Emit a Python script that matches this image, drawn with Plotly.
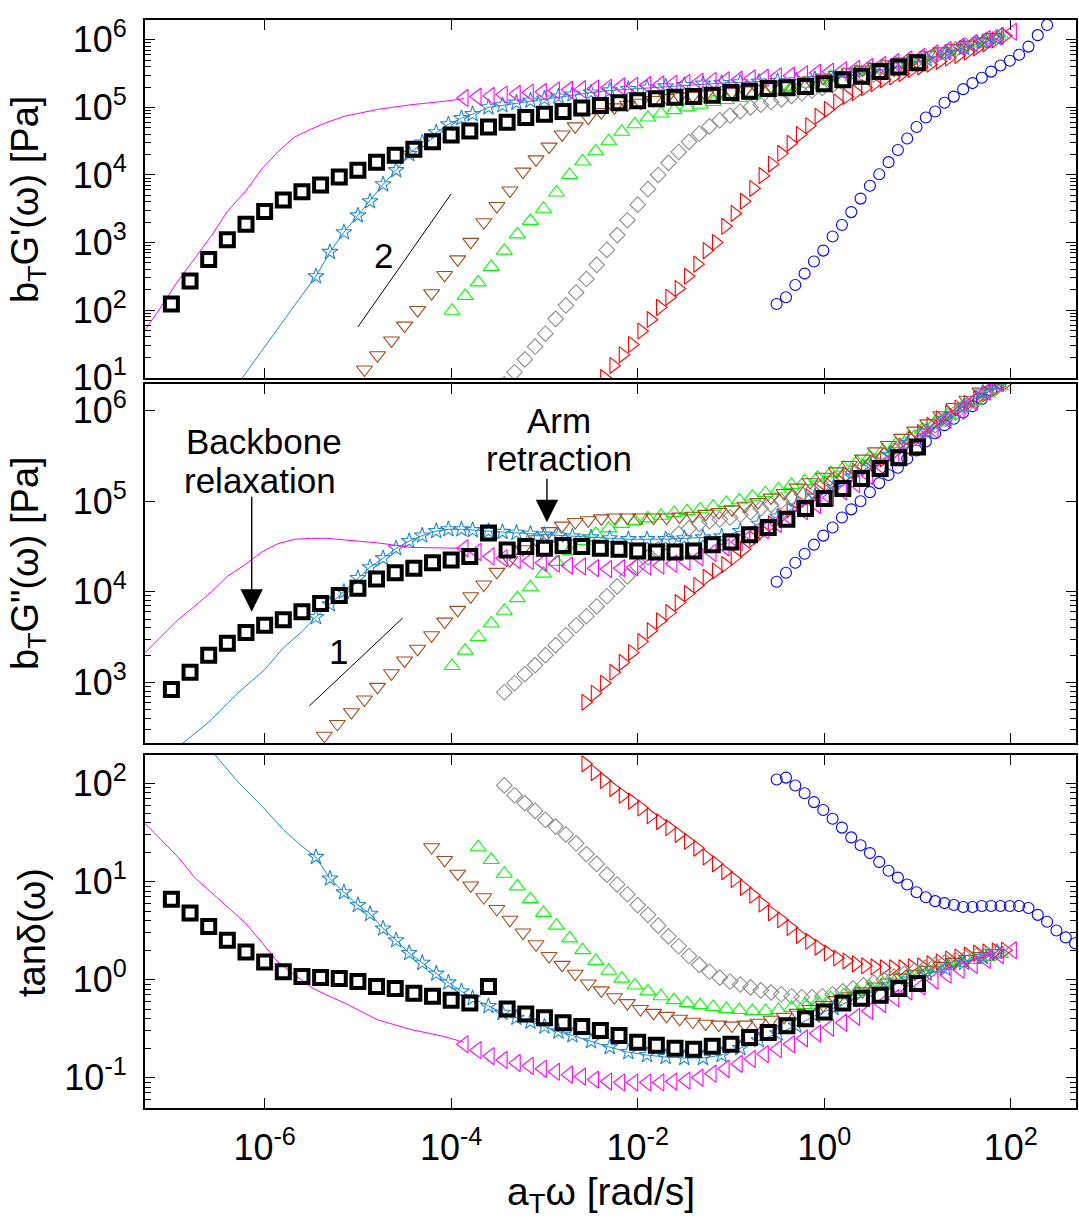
import plotly.graph_objects as go

# ---------------- data (log10 of values) ----------------
# Black open squares
SQ_LOGW = [-7.0, -6.8, -6.6, -6.4, -6.2, -6.0, -5.8, -5.6, -5.4, -5.2, -5.0, -4.8, -4.6, -4.4,
           -4.2, -4.0, -3.8, -3.6, -3.4, -3.2, -3.0, -2.8, -2.6, -2.4, -2.2, -2.0, -1.8, -1.6,
           -1.4, -1.2, -1.0, -0.8, -0.6, -0.4, -0.2, 0.0, 0.2, 0.4, 0.6, 0.8, 1.0]
SQ_GP = [2.09, 2.43, 2.75, 3.04, 3.27, 3.46, 3.63, 3.75, 3.85, 3.97, 4.07, 4.19, 4.29, 4.38,
         4.49, 4.59, 4.65, 4.71, 4.78, 4.85, 4.90, 4.94, 4.99, 5.03, 5.07, 5.10, 5.13, 5.15,
         5.16, 5.18, 5.22, 5.24, 5.28, 5.29, 5.31, 5.35, 5.41, 5.46, 5.53, 5.60, 5.66]
SQ_GPP = [2.92, 3.11, 3.30, 3.43, 3.55, 3.63, 3.69, 3.78, 3.87, 3.96, 4.04, 4.14, 4.21, 4.26,
          4.32, 4.35, 4.39, 4.65, 4.46, 4.50, 4.48, 4.51, 4.50, 4.48, 4.47, 4.45, 4.44, 4.44,
          4.45, 4.52, 4.55, 4.63, 4.71, 4.80, 4.92, 5.03, 5.14, 5.25, 5.36, 5.48, 5.60]
SQ_TAN = [0.82, 0.68, 0.54, 0.40, 0.28, 0.18, 0.08, 0.03, 0.02, 0.01, -0.02, -0.07, -0.09, -0.14,
          -0.17, -0.21, -0.24, -0.07, -0.30, -0.35, -0.39, -0.44, -0.48, -0.52, -0.57, -0.64,
          -0.67, -0.70, -0.71, -0.68, -0.66, -0.59, -0.54, -0.47, -0.40, -0.33, -0.24, -0.19,
          -0.16, -0.09, -0.04]

# Magenta: fitted line (low frequency) and left-pointing triangles
MG_LINE_LOGW = [-7.28, -7.1, -6.93, -6.75, -6.57, -6.4, -6.21, -6.03, -5.86, -5.68, -5.5,
                -5.33, -5.14, -4.79, -4.43, -4.08, -3.86]
MG_LINE_GP = [1.71, 2.07, 2.43, 2.77, 3.10, 3.46, 3.75, 4.09, 4.34, 4.56, 4.68, 4.78, 4.87,
              4.97, 5.04, 5.09, 5.13]
MG_LINE_GPP = [3.33, 3.51, 3.69, 3.84, 4.00, 4.17, 4.30, 4.44, 4.53, 4.58, 4.59, 4.59, 4.57,
               4.54, 4.49, 4.48, 4.48]
MG_LINE_TAN = [1.59, 1.42, 1.25, 1.04, 0.89, 0.74, 0.58, 0.38, 0.18, 0.05, -0.08, -0.16, -0.24,
               -0.41, -0.51, -0.58, -0.64]
MG_LOGW = [-3.86, -3.72, -3.58, -3.44, -3.30, -3.16, -3.02, -2.88, -2.74, -2.60, -2.46, -2.32,
           -2.18, -2.04, -1.90, -1.76, -1.62, -1.48, -1.34, -1.20, -1.06, -0.92, -0.78, -0.64,
           -0.50, -0.36, -0.22, -0.08, 0.06, 0.20, 0.34, 0.48, 0.62, 0.76, 0.90, 1.04, 1.18,
           1.32, 1.46, 1.60, 1.74, 1.88, 2.02]
MG_GP = [5.14, 5.16, 5.17, 5.19, 5.20, 5.22, 5.23, 5.25, 5.26, 5.27, 5.28, 5.29, 5.31, 5.32,
         5.33, 5.34, 5.35, 5.36, 5.38, 5.39, 5.40, 5.41, 5.43, 5.44, 5.46, 5.47, 5.49, 5.51,
         5.53, 5.55, 5.57, 5.60, 5.63, 5.67, 5.71, 5.75, 5.80, 5.85, 5.90, 5.95, 6.01, 6.06, 6.12]
MG_GPP = [4.48, 4.44, 4.39, 4.37, 4.35, 4.34, 4.32, 4.31, 4.29, 4.28, 4.26, 4.25, 4.26, 4.27,
          4.28, 4.29, 4.31, 4.33, 4.38, 4.43, 4.49, 4.55, 4.62, 4.68, 4.75, 4.81, 4.89, 4.96,
          5.04, 5.11, 5.19, 5.28, 5.38, 5.48, 5.59, 5.68, 5.79, 5.90, 6.00, 6.10, 6.21, 6.31, 6.42]
MG_TAN = [-0.66, -0.72, -0.78, -0.82, -0.85, -0.88, -0.91, -0.94, -0.97, -0.99, -1.02, -1.04,
          -1.05, -1.05, -1.05, -1.05, -1.04, -1.03, -1.00, -0.96, -0.91, -0.86, -0.81, -0.76,
          -0.71, -0.66, -0.60, -0.55, -0.49, -0.44, -0.38, -0.32, -0.25, -0.19, -0.12, -0.07,
          -0.01, 0.05, 0.10, 0.15, 0.20, 0.25, 0.30]

# Blue: line with open stars
BL_LOGW = [-6.9, -6.6, -6.3, -6.0, -5.8, -5.6, -5.45, -5.3, -5.15, -5.0, -4.87, -4.73, -4.59,
           -4.45, -4.31, -4.16, -4.03, -3.89, -3.77, -3.6, -3.45, -3.3, -3.15, -3.0, -2.85,
           -2.7, -2.5, -2.3, -2.1, -1.9, -1.7, -1.5, -1.3, -1.1, -0.9, -0.7, -0.5, -0.3, -0.1,
           0.1, 0.3, 0.5, 0.7, 0.9, 1.1, 1.3, 1.5, 1.7, 1.85]
BL_GP = [-0.25, 0.30, 0.88, 1.46, 1.84, 2.22, 2.50, 2.86, 3.15, 3.40, 3.61, 3.86, 4.07, 4.31,
         4.48, 4.63, 4.75, 4.84, 4.90, 5.00, 5.03, 5.07, 5.10, 5.13, 5.16, 5.19, 5.22, 5.25,
         5.27, 5.29, 5.31, 5.33, 5.35, 5.36, 5.37, 5.38, 5.39, 5.40, 5.42, 5.44, 5.48, 5.52,
         5.57, 5.64, 5.71, 5.80, 5.88, 5.97, 6.02]
BL_GPP = [2.31, 2.56, 2.87, 3.14, 3.38, 3.56, 3.72, 3.86, 4.00, 4.15, 4.27, 4.37, 4.48, 4.56,
          4.62, 4.67, 4.69, 4.69, 4.68, 4.67, 4.66, 4.65, 4.64, 4.63, 4.62, 4.61, 4.60, 4.59,
          4.58, 4.58, 4.58, 4.59, 4.60, 4.61, 4.67, 4.75, 4.83, 4.94, 5.05, 5.15, 5.27, 5.39,
          5.51, 5.64, 5.77, 5.91, 6.05, 6.20, 6.30]
BL_TAN = [2.60, 2.37, 2.03, 1.74, 1.53, 1.36, 1.25, 1.03, 0.89, 0.76, 0.67, 0.52, 0.40, 0.27,
          0.17, 0.06, -0.03, -0.12, -0.19, -0.27, -0.34, -0.39, -0.43, -0.48, -0.53, -0.57,
          -0.63, -0.69, -0.74, -0.77, -0.79, -0.80, -0.80, -0.77, -0.70, -0.62, -0.55, -0.47,
          -0.37, -0.29, -0.21, -0.13, -0.06, 0.00, 0.06, 0.11, 0.17, 0.23, 0.28]
BL_STAR_FROM = -5.45

# Brown: down-pointing triangles
BR_LOGW = [-5.36, -5.22, -5.07, -4.93, -4.79, -4.64, -4.50, -4.36, -4.21, -4.07, -3.93, -3.79,
           -3.65, -3.51, -3.37, -3.23, -3.09, -2.95, -2.81, -2.67, -2.53, -2.39, -2.25, -2.11,
           -1.97, -1.83, -1.69, -1.55, -1.41, -1.27, -1.13, -0.99, -0.85, -0.71, -0.57, -0.43,
           -0.29, -0.15, -0.01, 0.13, 0.27, 0.41, 0.55, 0.69, 0.83, 0.97, 1.11, 1.25, 1.39,
           1.53, 1.67, 1.81]
BR_GP = [0.35, 0.60, 0.86, 1.12, 1.33, 1.55, 1.77, 2.00, 2.25, 2.52, 2.75, 3.01, 3.30, 3.54,
         3.77, 4.05, 4.23, 4.42, 4.60, 4.72, 4.85, 4.93, 5.00, 5.04, 5.07, 5.11, 5.14, 5.16,
         5.17, 5.19, 5.21, 5.23, 5.25, 5.27, 5.30, 5.33, 5.36, 5.40, 5.44, 5.48, 5.52, 5.56,
         5.60, 5.64, 5.68, 5.73, 5.78, 5.83, 5.88, 5.93, 5.98, 6.04]
BR_GPP = [2.41, 2.54, 2.67, 2.81, 2.95, 3.10, 3.24, 3.37, 3.52, 3.67, 3.80, 3.95, 4.08, 4.22,
          4.35, 4.47, 4.58, 4.67, 4.73, 4.77, 4.79, 4.81, 4.82, 4.82, 4.82, 4.82, 4.82, 4.83,
          4.84, 4.86, 4.88, 4.91, 4.95, 4.99, 5.04, 5.09, 5.15, 5.21, 5.27, 5.33, 5.40, 5.47,
          5.55, 5.62, 5.70, 5.78, 5.86, 5.95, 6.04, 6.12, 6.21, 6.30]
BR_TAN = [None, None, None, None, None, None, None, None, 1.35, 1.22, 1.08, 0.96, 0.84, 0.72,
          0.61, 0.48, 0.36, 0.24, 0.15, 0.06, -0.04, -0.11, -0.18, -0.24, -0.30, -0.34, -0.37,
          -0.40, -0.43, -0.45, -0.46, -0.47, -0.46, -0.44, -0.41, -0.38, -0.34, -0.30, -0.26,
          -0.21, -0.17, -0.12, -0.07, -0.03, 0.02, 0.06, 0.10, 0.14, 0.18, 0.21, 0.24, 0.27]

# Green: up-pointing triangles
GR_LOGW = [-3.99, -3.85, -3.71, -3.57, -3.43, -3.29, -3.15, -3.01, -2.87, -2.73, -2.59, -2.45,
           -2.31, -2.17, -2.03, -1.89, -1.75, -1.61, -1.47, -1.33, -1.19, -1.05, -0.91, -0.77,
           -0.63, -0.49, -0.35, -0.21, -0.07, 0.07, 0.21, 0.35, 0.49, 0.63, 0.77, 0.91, 1.05,
           1.19, 1.33, 1.47, 1.61, 1.75, 1.89]
GR_GP = [1.99, 2.21, 2.41, 2.64, 2.88, 3.12, 3.32, 3.50, 3.74, 4.00, 4.20, 4.35, 4.50, 4.64,
         4.75, 4.85, 4.91, 4.96, 5.00, 5.04, 5.08, 5.11, 5.14, 5.18, 5.22, 5.26, 5.30, 5.35,
         5.40, 5.45, 5.49, 5.53, 5.57, 5.61, 5.65, 5.69, 5.74, 5.79, 5.84, 5.89, 5.95, 6.00, 6.06]
GR_GPP = [3.18, 3.35, 3.50, 3.65, 3.79, 3.93, 4.05, 4.20, 4.33, 4.45, 4.56, 4.64, 4.70, 4.75,
          4.78, 4.81, 4.84, 4.87, 4.89, 4.91, 4.94, 4.98, 5.01, 5.05, 5.09, 5.13, 5.18, 5.22,
          5.26, 5.31, 5.37, 5.43, 5.49, 5.56, 5.63, 5.71, 5.79, 5.87, 5.95, 6.03, 6.11, 6.19, 6.27]
GR_TAN = [None, None, 1.35, 1.22, 1.08, 0.95, 0.82, 0.68, 0.55, 0.42, 0.30, 0.19, 0.09, 0.01,
          -0.06, -0.12, -0.17, -0.21, -0.24, -0.26, -0.28, -0.30, -0.31, -0.32, -0.32, -0.31,
          -0.29, -0.26, -0.23, -0.19, -0.16, -0.12, -0.08, -0.04, 0.00, 0.04, 0.08, 0.11, 0.14,
          0.17, 0.20, 0.23, 0.26]

# Grey: open diamonds
GY_LOGW = [-3.43, -3.32, -3.21, -3.10, -2.99, -2.88, -2.77, -2.66, -2.55, -2.44, -2.33, -2.22,
           -2.11, -2.00, -1.89, -1.78, -1.67, -1.56, -1.45, -1.34, -1.23, -1.12, -1.01, -0.90,
           -0.79, -0.68, -0.57, -0.46, -0.35, -0.24, -0.13, -0.02, 0.09, 0.20, 0.31, 0.42, 0.53,
           0.64, 0.75, 0.86, 0.97, 1.08, 1.19, 1.30, 1.41, 1.52, 1.63, 1.74, 1.85]
GY_GP = [0.90, 1.08, 1.27, 1.46, 1.65, 1.87, 2.07, 2.26, 2.46, 2.67, 2.89, 3.11, 3.33, 3.56,
         3.79, 4.00, 4.18, 4.34, 4.49, 4.61, 4.72, 4.81, 4.88, 4.94, 5.00, 5.04, 5.08, 5.12,
         5.17, 5.21, 5.25, 5.29, 5.33, 5.37, 5.41, 5.45, 5.49, 5.53, 5.57, 5.62, 5.66, 5.71,
         5.76, 5.81, 5.86, 5.91, 5.96, 6.00, 6.04]
GY_GPP = [2.89, 2.99, 3.09, 3.19, 3.30, 3.41, 3.52, 3.63, 3.73, 3.84, 3.95, 4.06, 4.17, 4.28,
          4.38, 4.47, 4.56, 4.64, 4.70, 4.75, 4.78, 4.80, 4.82, 4.85, 4.88, 4.92, 4.96, 5.00,
          5.04, 5.08, 5.12, 5.17, 5.22, 5.27, 5.32, 5.38, 5.44, 5.50, 5.56, 5.63, 5.70, 5.77,
          5.84, 5.91, 5.98, 6.05, 6.12, 6.19, 6.26]
GY_TAN = [1.98, 1.88, 1.80, 1.72, 1.63, 1.56, 1.48, 1.39, 1.28, 1.18, 1.07, 0.97, 0.87, 0.76,
          0.66, 0.55, 0.44, 0.34, 0.24, 0.15, 0.08, 0.02, -0.02, -0.05, -0.08, -0.11, -0.13,
          -0.15, -0.17, -0.18, -0.18, -0.17, -0.15, -0.12, -0.09, -0.06, -0.03, 0.00, 0.03, 0.06,
          0.09, 0.12, 0.15, 0.18, 0.20, 0.22, 0.24, 0.26, 0.28]

# Red: right-pointing triangles
RD_LOGW = [-2.56, -2.46, -2.36, -2.26, -2.16, -2.06, -1.96, -1.86, -1.76, -1.66, -1.56, -1.46,
           -1.36, -1.26, -1.16, -1.06, -0.96, -0.86, -0.76, -0.66, -0.56, -0.46, -0.36, -0.26,
           -0.16, -0.06, 0.04, 0.14, 0.24, 0.34, 0.44, 0.54, 0.64, 0.74, 0.84, 0.94, 1.04, 1.14,
           1.24, 1.34, 1.44, 1.54, 1.64, 1.74, 1.84, 1.94]
RD_GP = [0.66, 0.83, 1.00, 1.18, 1.34, 1.49, 1.69, 1.86, 2.04, 2.19, 2.32, 2.50, 2.68, 2.88,
         3.00, 3.24, 3.43, 3.61, 3.80, 3.99, 4.16, 4.32, 4.47, 4.60, 4.73, 4.87, 4.97, 5.08,
         5.16, 5.22, 5.29, 5.35, 5.41, 5.45, 5.50, 5.56, 5.60, 5.64, 5.68, 5.73, 5.77, 5.82,
         5.88, 5.94, 6.00, 6.06]
RD_GPP = [2.78, 2.88, 2.99, 3.11, 3.22, 3.33, 3.45, 3.57, 3.68, 3.77, 3.88, 3.98, 4.07, 4.16,
          4.23, 4.30, 4.38, 4.47, 4.58, 4.67, 4.75, 4.83, 4.91, 4.98, 5.05, 5.11, 5.18, 5.24,
          5.29, 5.33, 5.37, 5.42, 5.47, 5.53, 5.61, 5.68, 5.76, 5.84, 5.91, 5.97, 6.03, 6.08,
          6.14, 6.19, 6.25, 6.30]
RD_TAN = [2.20, 2.11, 2.03, 1.95, 1.88, 1.82, 1.75, 1.67, 1.61, 1.55, 1.48, 1.41, 1.34, 1.25,
          1.18, 1.10, 1.02, 0.94, 0.86, 0.77, 0.68, 0.61, 0.53, 0.45, 0.39, 0.33, 0.27, 0.22,
          0.19, 0.16, 0.14, 0.13, 0.12, 0.12, 0.12, 0.13, 0.14, 0.16, 0.18, 0.21, 0.23, 0.25,
          0.27, 0.28, 0.29, 0.30]

# Blue: open circles
CI_LOGW = [-0.51, -0.41, -0.31, -0.21, -0.11, -0.01, 0.09, 0.19, 0.29, 0.39, 0.49, 0.59, 0.69,
           0.79, 0.89, 0.99, 1.09, 1.19, 1.29, 1.39, 1.49, 1.59, 1.69, 1.79, 1.89, 1.99, 2.09,
           2.19, 2.29, 2.39, 2.49, 2.59, 2.69]
CI_GP = [2.09, 2.19, 2.37, 2.54, 2.72, 2.88, 3.09, 3.26, 3.45, 3.65, 3.84, 4.01, 4.19, 4.37,
         4.54, 4.71, 4.85, 4.94, 5.07, 5.16, 5.27, 5.36, 5.44, 5.53, 5.62, 5.69, 5.78, 5.90,
         6.07, 6.22, 6.40, 6.55, 6.68]
CI_GPP = [4.11, 4.21, 4.32, 4.42, 4.52, 4.62, 4.71, 4.82, 4.91, 5.00, 5.10, 5.20, 5.29, 5.37,
          5.47, 5.56, 5.66, 5.75, 5.84, 5.91, 5.98, 6.05, 6.13, 6.22, 6.30, 6.39, 6.48, 6.57,
          6.66, 6.75, 6.83, 6.90, 6.97]
CI_TAN = [2.04, 2.06, 1.98, 1.90, 1.81, 1.73, 1.64, 1.55, 1.45, 1.37, 1.29, 1.20, 1.11, 1.04,
          0.97, 0.89, 0.84, 0.80, 0.78, 0.76, 0.74, 0.74, 0.75, 0.75, 0.75, 0.75, 0.75, 0.73,
          0.66, 0.59, 0.50, 0.43, 0.37]

# Slope guide lines (log10 coordinates)
SLOPE2_LOGW = [-5.0, -4.0]
SLOPE2_LOGG = [1.75, 3.72]
SLOPE1_LOGW = [-5.52, -4.52]
SLOPE1_LOGG = [2.74, 3.71]

X_TICKS = [-6, -4, -2, 0, 2]
Y1_TICKS = [1, 2, 3, 4, 5, 6]
Y2_TICKS = [3, 4, 5, 6]
Y3_TICKS = [-1, 0, 1, 2]

# ---------------- helpers ----------------
def P(v):
    return [None if a is None else 10 ** a for a in v]

def lab(e):
    return "10<sup>%d</sup>" % e

FONT = "Liberation Sans, Arial, sans-serif"
COL = dict(mag="#FF00FF", blue="#2089D2", brown="#A24B1C", green="#00FF00",
           grey="#8C8C8C", red="#FF0000", circ="#0000FF")

fig = go.Figure()
AX = [("x", "y"), ("x2", "y2"), ("x3", "y3")]

def add_markers(logw, vals, symbol, color, size, lw=1.1):
    for (xa, ya), v in zip(AX, vals):
        fig.add_trace(go.Scatter(x=P(logw), y=P(v), mode="markers", xaxis=xa, yaxis=ya,
                                 showlegend=False, hoverinfo="skip",
                                 marker=dict(symbol=symbol, size=size, color=color,
                                             line=dict(width=lw, color=color))))

def add_line(logw, vals, color, width=1.0):
    for (xa, ya), v in zip(AX, vals):
        fig.add_trace(go.Scatter(x=P(logw), y=P(v), mode="lines", xaxis=xa, yaxis=ya,
                                 showlegend=False, hoverinfo="skip",
                                 line=dict(color=color, width=width)))

add_markers(CI_LOGW, [CI_GP, CI_GPP, CI_TAN], "circle-open", COL["circ"], 11)
add_markers(RD_LOGW, [RD_GP, RD_GPP, RD_TAN], "triangle-right-open", COL["red"], 14)
add_markers(GY_LOGW, [GY_GP, GY_GPP, GY_TAN], "diamond-open", COL["grey"], 12)
add_markers(GR_LOGW, [GR_GP, GR_GPP, GR_TAN], "triangle-up-open", COL["green"], 14)
add_markers(BR_LOGW, [BR_GP, BR_GPP, BR_TAN], "triangle-down-open", COL["brown"], 14)
add_line(BL_LOGW, [BL_GP, BL_GPP, BL_TAN], COL["blue"])
idx = [i for i, w in enumerate(BL_LOGW) if w >= BL_STAR_FROM]
add_markers([BL_LOGW[i] for i in idx],
            [[BL_GP[i] for i in idx], [BL_GPP[i] for i in idx], [BL_TAN[i] for i in idx]],
            "star-open", COL["blue"], 12)
add_line(MG_LINE_LOGW, [MG_LINE_GP, MG_LINE_GPP, MG_LINE_TAN], COL["mag"])
add_markers(MG_LOGW, [MG_GP, MG_GPP, MG_TAN], "triangle-left-open", COL["mag"], 15)
add_markers(SQ_LOGW, [SQ_GP, SQ_GPP, SQ_TAN], "square-open", "black", 13, lw=4)

# slope guides
fig.add_trace(go.Scatter(x=P(SLOPE2_LOGW), y=P(SLOPE2_LOGG), mode="lines", xaxis="x", yaxis="y",
                         showlegend=False, line=dict(color="black", width=1)))
fig.add_trace(go.Scatter(x=P(SLOPE1_LOGW), y=P(SLOPE1_LOGG), mode="lines", xaxis="x2", yaxis="y2",
                         showlegend=False, line=dict(color="black", width=1)))

# ---------------- axes ----------------
XR = [-7.283, 2.70]
DOM = {"y": [0.6710, 1.0], "y2": [0.3355, 0.6654], "y3": [0.0, 0.3244]}
YR = {"y": [0.995, 6.294], "y2": [2.33, 6.294], "y3": [-1.31, 2.29]}
YT = {"y": Y1_TICKS, "y2": Y2_TICKS, "y3": Y3_TICKS}
MINOR = {
    "y": [k * 10 ** n for n in range(1, 6) for k in range(2, 10)],
    "y2": [k * 10 ** n for n in range(2, 4) for k in range(2, 10) if k * 10 ** n > 214],
    "y3": [k * 10.0 ** n for n in range(-2, 2) for k in range(2, 10) if k * 10.0 ** n > 0.049],
}

tickfont = dict(family=FONT, size=36, color="black")
layout = dict(width=1079, height=1222, paper_bgcolor="white", plot_bgcolor="white",
              margin=dict(l=145, r=3, t=20, b=114, autoexpand=False), showlegend=False)
for i, (xa, ya) in enumerate(AX):
    xkey = "xaxis" if xa == "x" else "xaxis" + xa[1:]
    ykey = "yaxis" if ya == "y" else "yaxis" + ya[1:]
    layout[xkey] = dict(type="log", range=XR, anchor=ya, domain=[0, 1], showgrid=False,
                        zeroline=False, showline=True, linecolor="black", linewidth=2,
                        mirror="ticks", ticks="inside", ticklen=10, tickwidth=1.2,
                        tickcolor="black", tickmode="array", automargin=False,
                        tickvals=[10.0 ** e for e in X_TICKS],
                        ticktext=[lab(e) for e in X_TICKS],
                        showticklabels=(i == 2), tickfont=tickfont, ticklabelstandoff=7)
    layout[ykey] = dict(type="log", range=YR[ya], anchor=xa, domain=DOM[ya], showgrid=False,
                        zeroline=False, showline=True, linecolor="black", linewidth=2,
                        mirror="ticks", ticks="inside", ticklen=10, tickwidth=1.2,
                        tickcolor="black", tickmode="array", automargin=False,
                        tickvals=[10.0 ** e for e in YT[ya]],
                        ticktext=[lab(e) for e in YT[ya]], tickfont=tickfont,
                        ticklabelstandoff=9,
                        minor=dict(ticks="inside", ticklen=6, tickwidth=1, tickcolor="black",
                                   tickmode="array", tickvals=MINOR[ya], showgrid=False))
fig.update_layout(**layout)

# ---------------- text ----------------
def px_x(px):
    return (px - 145) / 931.0

def px_y(py):
    return (1108 - py) / 1088.0

afont = dict(family=FONT, size=35, color="black")
ann = [
    dict(text="b<sub>T</sub>G'(ω) [Pa]", x=px_x(28), y=px_y(200), textangle=-90, size=38),
    dict(text="b<sub>T</sub>G\"(ω) [Pa]", x=px_x(28), y=px_y(563), textangle=-90, size=38),
    dict(text="tanδ(ω)", x=px_x(32), y=px_y(933), textangle=-90, size=38),
    dict(text="a<sub>T</sub>ω [rad/s]", x=px_x(601), y=px_y(1194), textangle=0, size=39),
]
for a in ann:
    s = a.pop("size")
    fig.add_annotation(xref="paper", yref="paper", showarrow=False, xanchor="center",
                       yanchor="middle", font=dict(family=FONT, size=s, color="black"), **a)

fig.add_annotation(xref="x", yref="y", x=-4.727, y=2.81, text="2", showarrow=False, font=afont)
fig.add_annotation(xref="x2", yref="y2", x=-5.209, y=3.344, text="1", showarrow=False, font=afont)
fig.add_annotation(xref="x2", yref="y2", x=-6.005, y=5.66, text="Backbone", showarrow=False, font=afont)
fig.add_annotation(xref="x2", yref="y2", x=-6.05, y=5.23, text="relaxation", showarrow=False, font=afont)
fig.add_annotation(xref="x2", yref="y2", x=-2.845, y=5.89, text="Arm", showarrow=False, font=afont)
fig.add_annotation(xref="x2", yref="y2", x=-2.84, y=5.47, text="retraction", showarrow=False, font=afont)
# arrows
fig.add_annotation(xref="x2", yref="y2", axref="x2", ayref="y2", x=-6.139, y=3.78,
                   ax=-6.139, ay=5.066, text="", showarrow=True, arrowhead=2, arrowsize=3.2,
                   arrowwidth=1.4, arrowcolor="black")
fig.add_annotation(xref="x2", yref="y2", axref="x2", ayref="y2", x=-2.973, y=4.769,
                   ax=-2.973, ay=5.264, text="", showarrow=True, arrowhead=2, arrowsize=3.2,
                   arrowwidth=1.4, arrowcolor="black")

fig.write_html("out.html", config={"displayModeBar": False},
               post_script="document.body.style.margin='0px';"
                           "document.body.style.overflow='hidden';")
